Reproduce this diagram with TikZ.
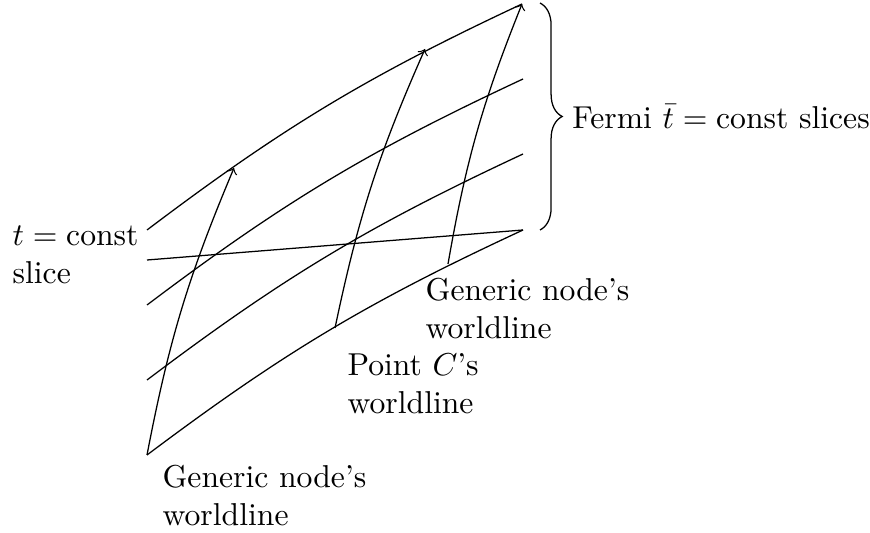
\documentclass[tikz,border=0pt]{standalone}
\usepackage{tikz}
\usetikzlibrary{decorations.pathreplacing, positioning, arrows.meta}

\tikzset{
  slice/.style={bend left=6},
  wline/.style={bend left=6},
  lbl/.style={align=left, inner sep=0pt, anchor=north west}
}

\begin{document}
\begin{tikzpicture}[x=0.111cm, y=0.111cm, >=to]
    \useasboundingbox (0,0) rectangle (87,-53.3);

    % --- Ends of the Fermi slices ---
    \coordinate (F1l) at (14.7,-23.0);  \coordinate (F1r) at (52.2,-0.4);
    \coordinate (F2l) at (14.7,-30.5);  \coordinate (F2r) at (52.3,-7.9);
    \coordinate (F3l) at (14.7,-38.0);  \coordinate (F3r) at (52.3,-15.4);
    \coordinate (F4l) at (14.7,-45.5);  \coordinate (F4r) at (52.3,-23.0);

    % --- Fermi tbar = const slices ---
    \draw (F1l) to[slice] (F1r);
    \draw (F2l) to[slice] (F2r);
    \draw (F3l) to[slice] (F3r);
    \draw (F4l) to[slice] (F4r);

    % --- t = const slice (straight) ---
    \coordinate (Tl) at (14.7,-26.0);
    \draw (Tl) -- (F4r);

    % --- Worldlines ---
    \coordinate (G1top) at (23.4,-16.8);
    \coordinate (C0) at (33.5,-32.8);
    \coordinate (C1) at (42.5,-4.9);
    \coordinate (G2) at (44.8,-26.4);

    \draw[->] (F4l) to[wline] (G1top);
    \draw[->] (C0) to[wline] (C1);
    \draw[->] (G2) to[wline] (F1r);

    % --- Brace over the Fermi slices ---
    \coordinate (Btop) at (54.0,-0.3);
    \coordinate (Bbot) at (54.0,-23.0);
    \draw[decorate, decoration={brace, amplitude=7pt}] (Btop) -- (Bbot)
        node[midway, right=10pt, inner sep=0pt] (fermi) {Fermi $\bar t=\mathrm{const}$ slices};

    % --- Labels ---
    \node[lbl] (tslice) at (1.2,-22.5) {$t=\mathrm{const}$\\slice};
    \node[lbl] (gen1) at (16.2,-46.5) {Generic node's\\worldline};
    \node[lbl] (pointc) at (34.7,-35.3) {Point $C$'s\\worldline};
    \node[lbl] (gen2) at (42.5,-27.8) {Generic node's\\worldline};

\end{tikzpicture}
\end{document}
